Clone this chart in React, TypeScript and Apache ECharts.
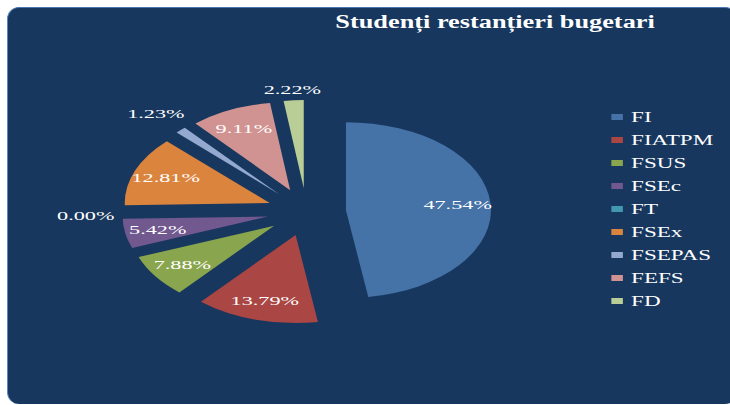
import React, { useEffect, useRef } from "react";
import * as echarts from "echarts";

const titleText = "Studenți restanțieri bugetari";
const categories = ["FI", "FIATPM", "FSUS", "FSEc", "FT", "FSEx", "FSEPAS", "FEFS", "FD"];
const shares = [47.54, 13.79, 7.88, 5.42, 0.0, 12.81, 1.23, 9.11, 2.22];
const sliceColors = ["#4572A7", "#AA4643", "#89A54E", "#71588F", "#4198AF", "#DB843D", "#93A9CF", "#D19392", "#B9CD96"];
const insideLabelNames = ["FI", "FIATPM", "FSUS", "FSEc", "FSEx", "FEFS"];
const farLabelNames = ["FT", "FSEPAS"];
const nearLabelNames = ["FD"];

const STRETCH = 730 / 443;
const SERIF = "Liberation Serif";
const CENTER = [186, 212];
const OFFSET = 24;

const pctLabel = (p: any) => Number(p.percent || 0).toFixed(2) + "%";

function pieSeries(radius: any, labelNames: string[] | null, visible: boolean) {
  return {
    type: "pie",
    radius,
    center: CENTER,
    startAngle: 90,
    clockwise: true,
    selectedMode: "multiple",
    selectedOffset: OFFSET,
    avoidLabelOverlap: false,
    silent: true,
    animation: false,
    emphasis: { disabled: true, scale: false },
    itemStyle: { borderWidth: 0 },
    select: { itemStyle: visible ? { borderWidth: 0 } : { color: "rgba(0,0,0,0)", borderWidth: 0 } },
    labelLine: { show: false },
    label: {
      show: !!labelNames,
      position: "inside",
      formatter: pctLabel,
      color: "#ffffff",
      fontFamily: SERIF,
      fontSize: 13.5,
    },
    data: categories.map((name, i) => ({
      name,
      value: shares[i],
      selected: true,
      itemStyle: { color: visible ? sliceColors[i] : "rgba(0,0,0,0)", borderWidth: 0 },
      label: { show: !!labelNames && labelNames.indexOf(name) >= 0 },
    })),
  };
}

export default function App() {
  const ref = useRef<HTMLDivElement>(null);
  useEffect(() => {
    if (!ref.current) return;
    const chart = echarts.init(ref.current, undefined, { renderer: "svg" });
    chart.setOption({
      animation: false,
      backgroundColor: "transparent",
      graphic: [
        {
          type: "text",
          x: 203.5,
          y: 22,
          scaleX: 0.84,
          silent: true,
          style: {
            text: titleText,
            fill: "#ffffff",
            fontFamily: SERIF,
            fontWeight: "bold",
            fontSize: 19,
            align: "left",
            verticalAlign: "middle",
          },
        },
      ],
      legend: {
        orient: "vertical",
        left: 371,
        top: 110,
        padding: 0,
        itemGap: 9,
        itemWidth: 7,
        itemHeight: 6,
        icon: "rect",
        selectedMode: false,
        data: categories,
        textStyle: { color: "#ffffff", fontFamily: SERIF, fontSize: 14, lineHeight: 14 },
      },
      series: [
        pieSeries([0, 88], null, true),
        pieSeries([42, 88], insideLabelNames, false),
        pieSeries([88, 126], farLabelNames, false),
        pieSeries([88, 104], nearLabelNames, false),
      ],
    });
    return () => chart.dispose();
  }, []);

  return (
    <div style={{ position: "fixed", left: 0, top: 0, width: 730, height: 405, overflow: "hidden", background: "#ffffff" }}>
      <div
        style={{
          position: "absolute",
          left: 7,
          top: 7,
          width: 730,
          height: 397,
          boxSizing: "border-box",
          background: "#17375E",
          borderRadius: 12,
          borderLeft: "1px solid #5B86C0",
          borderTop: "1px solid #4A75AE",
        }}
      />
      <div
        ref={ref}
        style={{
          position: "absolute",
          left: 0,
          top: 0,
          width: 443,
          height: 405,
          transform: `scaleX(${STRETCH})`,
          transformOrigin: "0 0",
        }}
      />
    </div>
  );
}
